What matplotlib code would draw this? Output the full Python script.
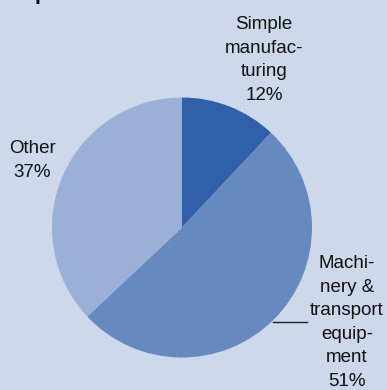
import matplotlib.pyplot as plt

plt.rcParams['font.family'] = ['Liberation Sans', 'DejaVu Sans']

sectors = ['Simple\nmanufac-\nturing', 'Machi-\nnery &\ntransport\nequip-\nment', 'Other']
shares = [12, 51, 37]
colors = ['#2f60a9', '#6689c0', '#9ab0d6']
bg = '#cdd8ea'

W, H = 387, 390
fig = plt.figure(figsize=(W / 100, H / 100), dpi=100, facecolor=bg)
ax = fig.add_axes([0, 0, 1, 1])
ax.set_facecolor(bg)

cx, cy, r = 182, H - 227.5, 130
ax.pie(shares, colors=colors, startangle=90, counterclock=False,
       center=(cx, cy), radius=r, frame=True,
       wedgeprops=dict(linewidth=0))
ax.set_xlim(0, W)
ax.set_ylim(0, H)
ax.set_aspect('equal')
ax.axis('off')

fs = 13.5
ls = 1.5
labels = [f'{s}\n{v}%' for s, v in zip(sectors, shares)]
ax.text(264, H - 60, labels[0], ha='center', va='center', fontsize=fs,
        linespacing=ls, color='#111111')
ax.text(347, H - 322.5, labels[1], ha='center', va='center', fontsize=fs,
        linespacing=ls, color='#111111')
ax.text(32, H - 160.5, labels[2], ha='center', va='center', fontsize=fs,
        linespacing=ls, color='#111111')

# leader line for the machinery slice
ax.plot([273, 307], [H - 321.5, H - 321.5], color='#222222', lw=1)

# bottom of the heading text, cut off by the top edge
ax.text(35, H + 0.5, 'p', fontsize=15, fontweight='bold', ha='left',
        va='baseline', color='black', clip_on=False)

fig.savefig('out.png', dpi=100, facecolor=bg)
